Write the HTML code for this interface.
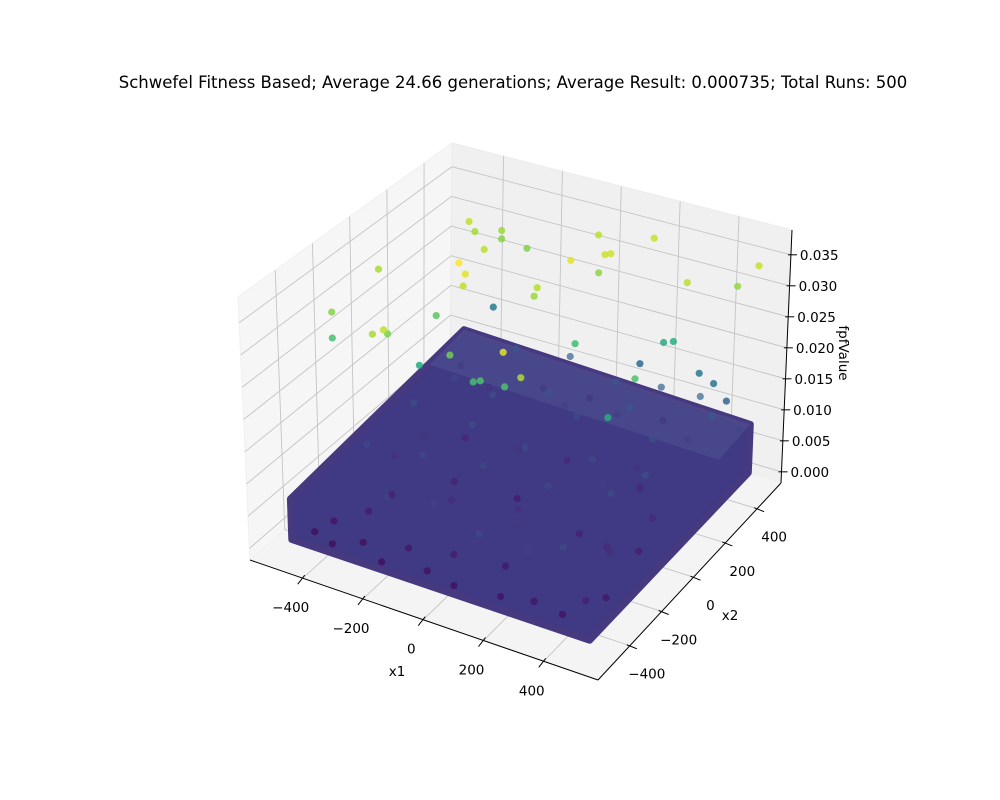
<!DOCTYPE html>
<html><head><meta charset="utf-8"><style>
html,body{margin:0;padding:0;background:#fff;}
svg{display:block;font-family:"DejaVu Sans","Liberation Sans",sans-serif;}
</style></head><body>
<svg id="chart" width="1000" height="800" viewBox="0 0 1000 800">
<text x="513" y="88" text-anchor="middle" font-size="16.5" fill="#000">Schwefel Fitness Based; Average 24.66 generations; Average Result: 0.000735; Total Runs: 500</text>
<g id="panes"></g>
<g id="grid"></g>
<g id="axes"></g>
<g id="marks"></g>
<text x="397" y="676" font-size="13.5" text-anchor="middle">x1</text>
<text x="730" y="620" font-size="13.5" text-anchor="middle">x2</text>
<text x="0" y="0" font-size="13.5" text-anchor="middle" transform="translate(839,353) rotate(90)">fpfValue</text>
</svg>
<script>
// outlier points
const outX1=[-390,-370,-314,-314,-228,-270,-21,144,67,86,18,-219,-198,-205,-483,47,-27,-37,500,452,344,-500,-294,-500,-301,-265,-319,101,271,304,-117,-283,118,-41,-18,61,175,363,338,-398,333,383,429,108];
const outX2=[345,345,402,402,402,230,460,500,345,345,230,0,0,0,0,345,115,115,500,460,345,-230,0,-230,-345,-345,-230,115,345,345,-230,-115,-345,-230,-230,-230,-345,0,-115,500,460,460,460,500];
const outZ=[0.0330,0.0316,0.0312,0.0298,0.0294,0.0327,0.0329,0.0335,0.0336,0.0340,0.0348,0.0365,0.0350,0.0330,0.0318,0.0304,0.0325,0.0310,0.0335,0.0306,0.0327,0.0298,0.0270,0.0257,0.0318,0.0330,0.0290,0.0253,0.0221,0.0227,0.0286,0.0219,0.0351,0.0255,0.0260,0.0262,0.0320,0.0262,0.0226,0.0150,0.0150,0.0140,0.0118,0.0125];
// dense cloud sample points
const cloudX1=[-450,-420,-380,-350,-300,-260,-210,-160,-120,-70,-20,30,80,130,180,230,280,330,380,430,460,-440,-390,-330,-270,-200,-140,-80,-10,60,120,190,250,310,370,440,-430,-360,-290,-220,-150,-90,-30,40,100,170,240,300,360,420,-410,-340,-250,-180,-100,-40,20,90,160,220,290,350,410,470,-300,-120,50,200,350,-460,120,260,400,-60];
const cloudX2=[-440,-380,-460,-300,-420,-350,-470,-400,-320,-450,-380,-470,-410,-340,-460,-390,-440,-360,-450,-400,-330,-150,-80,-200,-120,-60,-180,-100,-20,-140,-70,-190,-110,-30,-160,-90,100,40,160,80,20,130,60,190,0,110,50,170,90,30,300,380,250,430,320,460,280,400,350,450,260,370,410,470,470,480,460,470,440,420,-250,220,-200,350];
const cloudZ=[0.0008,0.0015,0.0005,0.0022,0.0010,0.0070,0.0006,0.0018,0.0075,0.0009,0.0025,0.0007,0.0080,0.0020,0.0011,0.0072,0.0014,0.0085,0.0012,0.0028,0.0019,0.0078,0.0050,0.0027,0.0080,0.0033,0.0042,0.0085,0.0024,0.0048,0.0076,0.0062,0.0030,0.0082,0.0041,0.0026,0.0086,0.0058,0.0035,0.0086,0.0044,0.0053,0.0082,0.0039,0.0061,0.0079,0.0068,0.0037,0.0087,0.0043,0.0080,0.0055,0.0088,0.0063,0.0095,0.0059,0.0084,0.0066,0.0100,0.0061,0.0090,0.0069,0.0105,0.0075,0.0102,0.0111,0.0098,0.0107,0.0120,0.0064,0.0058,0.0051,0.0047,0.0072];
const x1Ticks=[-400,-200,0,200,400];
const x2Ticks=[-400,-200,0,200,400];
const zTicks=[0,0.005,0.01,0.015,0.02,0.025,0.03,0.035];
const zTickLabels=["0.000","0.005","0.010","0.015","0.020","0.025","0.030","0.035"];

const XMIN=-575,XMAX=580,YMIN=-600,YMAX=550,ZMIN=-0.0018,ZMAX=0.039;
const CMIN=0,CMAX=0.0365;
const C={ "000":[250,560],"100":[598,680],"110":[781,483],"010":[450,385],
          "001":[238,297],"101":[608,410],"111":[792,230],"011":[452,143]};
function lerp(a,b,t){return [a[0]+(b[0]-a[0])*t,a[1]+(b[1]-a[1])*t];}
function P(x1,x2,z){
  const tx=(x1-XMIN)/(XMAX-XMIN),ty=(x2-YMIN)/(YMAX-YMIN),tz=(z-ZMIN)/(ZMAX-ZMIN);
  const b=lerp(lerp(C["000"],C["100"],tx),lerp(C["010"],C["110"],tx),ty);
  const t=lerp(lerp(C["001"],C["101"],tx),lerp(C["011"],C["111"],tx),ty);
  return lerp(b,t,tz);
}
const vir=[[68,1,84],[72,40,120],[62,74,137],[49,104,142],[38,130,142],[31,158,137],[53,183,121],[109,205,89],[180,222,44],[253,231,37]];
function color(z){
  let t=Math.max(0,Math.min(1,(z-CMIN)/(CMAX-CMIN)))*(vir.length-1);
  const i=Math.min(vir.length-2,Math.floor(t)),f=t-i;
  const c=vir[i].map((v,k)=>Math.round(v+(vir[i+1][k]-v)*f));
  return `rgb(${c[0]},${c[1]},${c[2]})`;
}
const NS="http://www.w3.org/2000/svg";
function mk(tag,attrs,parent){const e=document.createElementNS(NS,tag);for(const k in attrs)e.setAttribute(k,attrs[k]);parent.appendChild(e);return e;}
function pts(a){return a.map(p=>p[0].toFixed(1)+","+p[1].toFixed(1)).join(" ");}
const panes=document.getElementById('panes'),grid=document.getElementById('grid'),axes=document.getElementById('axes'),marks=document.getElementById('marks');

let e;
e=mk('polygon',{points:pts([P(XMIN,YMIN,ZMIN),P(XMIN,YMAX,ZMIN),P(XMIN,YMAX,ZMAX),P(XMIN,YMIN,ZMAX)]),fill:'#f6f6f6',stroke:'#f0f0f0'},panes);


e=mk('polygon',{points:pts([P(XMIN,YMAX,ZMIN),P(XMAX,YMAX,ZMIN),P(XMAX,YMAX,ZMAX),P(XMIN,YMAX,ZMAX)]),fill:'#f0f0f0',stroke:'#ececec'},panes);


e=mk('polygon',{points:pts([P(XMIN,YMIN,ZMIN),P(XMAX,YMIN,ZMIN),P(XMAX,YMAX,ZMIN),P(XMIN,YMAX,ZMIN)]),fill:'#f4f4f4',stroke:'#f0f0f0'},panes);



function gl(a,b,name){
  const l=mk('line',{x1:a[0],y1:a[1],x2:b[0],y2:b[1],stroke:'#c4c4c4','stroke-width':0.9},grid);
  
  
}
x1Ticks.forEach(v=>{gl(P(v,YMIN,ZMIN),P(v,YMAX,ZMIN),'floor-grid-x1');gl(P(v,YMAX,ZMIN),P(v,YMAX,ZMAX),'wall-grid-x1');});
x2Ticks.forEach(v=>{gl(P(XMIN,v,ZMIN),P(XMAX,v,ZMIN),'floor-grid-x2');gl(P(XMIN,v,ZMIN),P(XMIN,v,ZMAX),'wall-grid-x2');});
zTicks.forEach(v=>{gl(P(XMIN,YMIN,v),P(XMIN,YMAX,v),'wall-grid-z');gl(P(XMIN,YMAX,v),P(XMAX,YMAX,v),'wall-grid-z');});

function al(a,b,name){
  const l=mk('line',{x1:a[0],y1:a[1],x2:b[0],y2:b[1],stroke:'#000','stroke-width':1},axes);
  
  
}
function tl(x,y,s,name,anchor){
  const t=mk('text',{x:x,y:y,'font-size':13.5,'text-anchor':anchor||'middle'},axes);
  t.textContent=s;
  
  
}
al(P(XMIN,YMIN,ZMIN),P(XMAX,YMIN,ZMIN),'x1-axis-line');
al(P(XMAX,YMIN,ZMIN),P(XMAX,YMAX,ZMIN),'x2-axis-line');
al(P(XMAX,YMAX,ZMIN),P(XMAX,YMAX,ZMAX),'z-axis-line');
x1Ticks.forEach(v=>{const p=P(v,YMIN,ZMIN);al([p[0]+2,p[1]-3],[p[0]-5,p[1]+6],'x1-tick');tl(p[0]-12,p[1]+34,(v<0?'\u2212'+(-v):v),'x1-tick-label');});
x2Ticks.forEach(v=>{const p=P(XMAX,v,ZMIN);al([p[0]-3,p[1]-1],[p[0]+7,p[1]+3],'x2-tick');tl(p[0]+17,p[1]+33,(v<0?'\u2212'+(-v):v),'x2-tick-label');});
zTicks.forEach((v,i)=>{const p=P(XMAX,YMAX,v);al([p[0]-3,p[1]],[p[0]+6,p[1]],'z-tick');tl(p[0]+9,p[1]+5,zTickLabels[i],'z-tick-label','start');});

// dense cloud body
e=mk('polygon',{points:pts([P(-495,-495,0.0002),P(495,-495,0.0002),P(495,495,0.0002),P(495,495,0.0080),P(-495,495,0.0100),P(-495,-495,0.0065)]),fill:'#3f3a83',stroke:'#46397f','stroke-width':7,'stroke-linejoin':'round'},marks);


e=mk('polygon',{points:pts([P(-495,495,0.0100),P(495,495,0.0080),P(495,300,0.0075),P(-495,300,0.0090)]),fill:'#4f4d8e','fill-opacity':0.7},marks);



const all=[];
cloudX1.forEach((v,i)=>all.push([v,cloudX2[i],cloudZ[i],'cloud-point']));
outX1.forEach((v,i)=>all.push([v,outX2[i],outZ[i],'outlier-point']));
all.sort((a,b)=>(b[1]-a[1])-(a[0]-b[0])*0.3);
all.forEach(d=>{
  const p=P(d[0],d[1],d[2]);
  const c=mk('circle',{cx:p[0].toFixed(1),cy:p[1].toFixed(1),r:3.6,fill:color(d[2]),'fill-opacity':d[3]==='cloud-point'?0.7:0.85},marks);
  
  
});
</script>
</body></html>
